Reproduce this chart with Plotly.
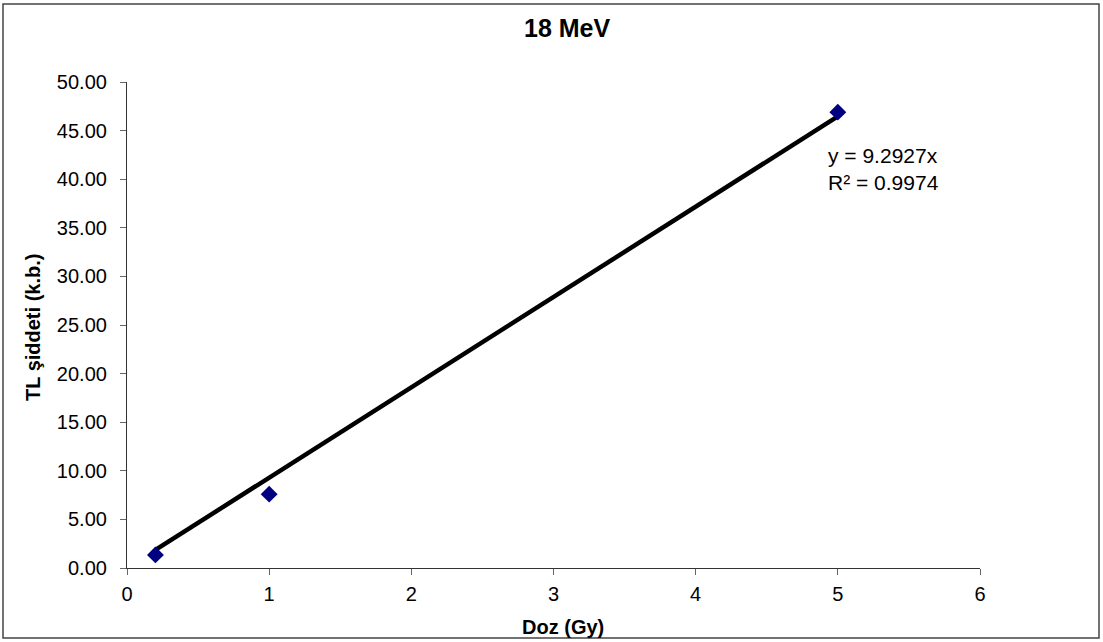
import plotly.graph_objects as go

doz = [0.2, 1, 5]
tl = [1.35, 7.6, 46.9]
slope = 9.2927
trend_x = [0.2, 5]
trend_y = [slope * v for v in trend_x]
x_ticks = [0, 1, 2, 3, 4, 5, 6]
y_ticks = [0, 5, 10, 15, 20, 25, 30, 35, 40, 45, 50]

W, H = 1103, 642
L, R, T, B = 127, 123, 82, 74
pw, ph = W - L - R, H - T - B


def px(xp):
    return (xp - L) / pw


def py(yp):
    return (H - B - yp) / ph


fig = go.Figure()
fig.add_trace(go.Scatter(x=trend_x, y=trend_y, mode="lines",
                         line=dict(color="black", width=4.5), showlegend=False, hoverinfo="skip"))
fig.add_trace(go.Scatter(x=doz, y=tl, mode="markers",
                         marker=dict(symbol="diamond", size=13, color="#000080"), showlegend=False))

font = "Liberation Sans, Arial, sans-serif"
fig.update_layout(
    width=W, height=H,
    margin=dict(l=L, r=R, t=T, b=B),
    paper_bgcolor="white", plot_bgcolor="white",
    font=dict(family=font, color="black", size=20),
    xaxis=dict(range=[0, 6], tickvals=x_ticks, showgrid=False, zeroline=False,
               showline=True, linecolor="#333333", linewidth=1.2,
               ticks="outside", ticklen=6, tickcolor="#666666",
               tickfont=dict(size=20), ticklabelstandoff=2),
    yaxis=dict(range=[0, 50], tickvals=y_ticks, tickformat=".2f", showgrid=False, zeroline=False,
               showline=True, linecolor="#333333", linewidth=1.2,
               ticks="outside", ticklen=6, tickcolor="#666666",
               tickfont=dict(size=20), ticklabelstandoff=9),
)

fig.add_annotation(text="<b>18 MeV</b>", xref="paper", yref="paper", x=px(567), y=py(28),
                   xanchor="center", yanchor="middle", showarrow=False, font=dict(size=25))
fig.add_annotation(text="<b>Doz (Gy)</b>", xref="paper", yref="paper", x=px(563), y=py(627),
                   xanchor="center", yanchor="middle", showarrow=False, font=dict(size=20))
fig.add_annotation(text="<b>TL şiddeti (k.b.)</b>", xref="paper", yref="paper", x=px(33), y=py(328),
                   xanchor="center", yanchor="middle", showarrow=False, textangle=-90, font=dict(size=20))
fig.add_annotation(text="y = 9.2927x<br>R² = 0.9974", xref="paper", yref="paper",
                   x=px(826), y=py(142), xanchor="left", yanchor="top",
                   showarrow=False, align="left", font=dict(size=21))

fig.add_shape(type="rect", xref="paper", yref="paper",
              x0=px(3), x1=px(1099), y0=py(638), y1=py(4),
              line=dict(color="#444444", width=1.5), fillcolor="rgba(0,0,0,0)", layer="below")

fig.write_html("out.html")
